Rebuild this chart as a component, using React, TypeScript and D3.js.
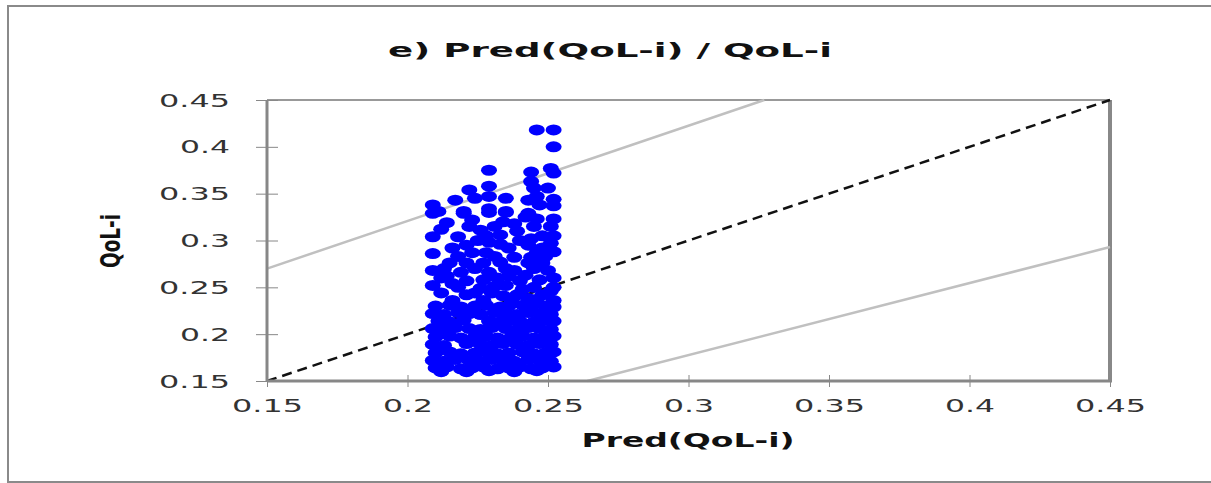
import { useEffect, useRef } from "react";
import * as d3 from "d3";

// axis ticks (same on both axes)
const tickValues = [0.15, 0.2, 0.25, 0.3, 0.35, 0.4, 0.45];
const tickLabels = ["0.15", "0.2", "0.25", "0.3", "0.35", "0.4", "0.45"];

// reference lines [x, y]
const identityLine: [number, number][] = [[0.15, 0.15], [0.45, 0.45]];
const upperBand: [number, number][] = [[0.15, 0.27], [0.327, 0.45]];
const lowerBand: [number, number][] = [[0.264, 0.15], [0.45, 0.293]];

const points: [number, number][] = [
  // upper, sparse part
  [0.246, 0.418], [0.252, 0.418], [0.252, 0.4], [0.229, 0.375], [0.244, 0.373],
  [0.251, 0.377], [0.252, 0.372], [0.244, 0.363], [0.229, 0.358], [0.222, 0.354],
  [0.245, 0.356], [0.25, 0.356], [0.217, 0.343], [0.224, 0.345], [0.229, 0.347],
  [0.235, 0.345], [0.243, 0.343], [0.246, 0.347], [0.252, 0.344], [0.209, 0.338],
  [0.22, 0.331], [0.229, 0.334], [0.235, 0.331], [0.243, 0.329], [0.247, 0.338],
  [0.252, 0.337], [0.211, 0.331],
  // middle
  [0.209, 0.329], [0.22, 0.329], [0.229, 0.33], [0.235, 0.33], [0.214, 0.319],
  [0.223, 0.322], [0.234, 0.32], [0.242, 0.325], [0.251, 0.315], [0.226, 0.311],
  [0.233, 0.306], [0.239, 0.31], [0.209, 0.304], [0.218, 0.304], [0.229, 0.298],
  [0.243, 0.295], [0.251, 0.297], [0.209, 0.286], [0.223, 0.287], [0.228, 0.287],
  [0.238, 0.282], [0.246, 0.287], [0.215, 0.276], [0.221, 0.276], [0.227, 0.276],
  [0.233, 0.277], [0.243, 0.276], [0.248, 0.276], [0.209, 0.268], [0.219, 0.266],
  [0.229, 0.266], [0.238, 0.268], [0.25, 0.268], [0.212, 0.26], [0.221, 0.257],
  [0.232, 0.26], [0.24, 0.257], [0.252, 0.26], [0.209, 0.252], [0.218, 0.25],
  [0.226, 0.249], [0.235, 0.252], [0.245, 0.25], [0.212, 0.244], [0.221, 0.242],
  [0.23, 0.244], [0.239, 0.242], [0.248, 0.242], [0.216, 0.236], [0.227, 0.236],
  [0.237, 0.236], [0.246, 0.237], [0.252, 0.236], [0.252, 0.323], [0.252, 0.305],
  [0.252, 0.288], [0.252, 0.25], [0.248, 0.305], [0.245, 0.315], [0.24, 0.3],
  [0.236, 0.292], [0.225, 0.3], [0.216, 0.292], [0.212, 0.312], [0.231, 0.315],
  [0.244, 0.282], [0.224, 0.27], [0.214, 0.262], [0.242, 0.263], [0.235, 0.27],
  [0.218, 0.283], [0.231, 0.283], [0.249, 0.283], [0.213, 0.27], [0.245, 0.27],
  [0.227, 0.258], [0.236, 0.262], [0.247, 0.258], [0.216, 0.254], [0.231, 0.251],
  [0.241, 0.248], [0.251, 0.246], [0.224, 0.244], [0.234, 0.241], [0.243, 0.238],
  [0.222, 0.315], [0.238, 0.318], [0.246, 0.323], [0.228, 0.305], [0.244, 0.302],
  [0.233, 0.296], [0.221, 0.295], [0.248, 0.292],
  // lower, dense part
  [0.21, 0.23], [0.215, 0.231], [0.219, 0.229], [0.224, 0.23], [0.228, 0.231],
  [0.233, 0.229], [0.236, 0.23], [0.241, 0.231], [0.244, 0.229], [0.249, 0.23],
  [0.252, 0.229],
  [0.209, 0.222], [0.213, 0.221], [0.218, 0.223], [0.222, 0.222], [0.226, 0.221],
  [0.231, 0.223], [0.235, 0.222], [0.239, 0.221], [0.243, 0.223], [0.247, 0.222],
  [0.251, 0.221],
  [0.211, 0.214], [0.215, 0.213], [0.22, 0.215], [0.229, 0.214], [0.233, 0.213],
  [0.237, 0.215], [0.24, 0.214], [0.245, 0.213], [0.249, 0.215], [0.252, 0.214],
  [0.209, 0.206], [0.213, 0.205], [0.217, 0.207], [0.222, 0.206], [0.226, 0.205],
  [0.23, 0.207], [0.235, 0.206], [0.239, 0.205], [0.243, 0.207], [0.247, 0.206],
  [0.251, 0.205],
  [0.21, 0.197], [0.215, 0.198], [0.219, 0.196], [0.224, 0.197], [0.228, 0.198],
  [0.232, 0.196], [0.237, 0.197], [0.241, 0.198], [0.245, 0.196], [0.249, 0.197],
  [0.252, 0.198],
  [0.209, 0.189], [0.213, 0.188], [0.221, 0.19], [0.226, 0.189], [0.23, 0.188],
  [0.234, 0.19], [0.239, 0.189], [0.243, 0.188], [0.247, 0.19], [0.251, 0.189],
  [0.21, 0.18], [0.215, 0.181], [0.219, 0.179], [0.224, 0.18], [0.228, 0.181],
  [0.232, 0.179], [0.236, 0.18], [0.241, 0.181], [0.245, 0.179], [0.249, 0.18],
  [0.252, 0.181],
  [0.209, 0.172], [0.213, 0.171], [0.217, 0.173], [0.222, 0.172], [0.226, 0.171],
  [0.23, 0.173], [0.234, 0.172], [0.238, 0.171], [0.243, 0.173], [0.247, 0.172],
  [0.251, 0.171],
  [0.21, 0.164], [0.214, 0.165], [0.219, 0.163], [0.223, 0.164], [0.227, 0.165],
  [0.232, 0.163], [0.236, 0.164], [0.24, 0.165], [0.244, 0.163], [0.248, 0.164],
  [0.252, 0.165],
  [0.212, 0.16], [0.221, 0.16], [0.229, 0.161], [0.238, 0.16], [0.246, 0.161],
];

const FONT = "'DejaVu Sans', Verdana, sans-serif";

export default function App() {
  const ref = useRef<SVGSVGElement>(null);

  useEffect(() => {
    if (!ref.current) return;
    const svg = d3.select(ref.current);
    svg.selectAll("*").remove();

    const left = 267, right = 1110, top = 100, bottom = 381;

    const x = d3.scaleLinear().domain([0.15, 0.45]).range([left, right]);
    const y = d3.scaleLinear().domain([0.15, 0.45]).range([bottom, top]);

    // outer chart frame
    svg.append("rect")
      .attr("x", 8).attr("y", 6)
      .attr("width", 1220).attr("height", 476)
      .attr("fill", "#fff")
      .attr("stroke", "#8a8a8a")
      .attr("stroke-width", 2);

    // title
    svg.append("text")
      .attr("x", 610).attr("y", 50)
      .attr("dy", "0.36em")
      .attr("text-anchor", "middle")
      .attr("font-family", FONT)
      .attr("font-weight", "bold")
      .attr("font-size", 19)
      .attr("textLength", 444)
      .attr("lengthAdjust", "spacingAndGlyphs")
      .attr("fill", "#111")
      .text("e) Pred(QoL-i) / QoL-i");

    // plot border (top and right)
    svg.append("line")
      .attr("x1", left).attr("x2", right).attr("y1", top).attr("y2", top)
      .attr("stroke", "#999").attr("stroke-width", 2);
    svg.append("line")
      .attr("x1", right).attr("x2", right).attr("y1", top).attr("y2", bottom)
      .attr("stroke", "#888").attr("stroke-width", 4);

    const line = d3.line<[number, number]>()
      .x((d) => x(d[0]))
      .y((d) => y(d[1]));

    // reference lines
    [upperBand, lowerBand].forEach((band) => {
      svg.append("path")
        .attr("d", line(band))
        .attr("fill", "none")
        .attr("stroke", "#c0c0c0")
        .attr("stroke-width", 2.5);
    });
    svg.append("path")
      .attr("d", line(identityLine))
      .attr("fill", "none")
      .attr("stroke", "#111")
      .attr("stroke-width", 2.5)
      .attr("stroke-dasharray", "10,6");

    // Y axis
    const yAxis = svg.append("g")
      .attr("transform", `translate(${left},0)`)
      .call(d3.axisLeft(y).tickValues(tickValues)
        .tickFormat((_, i) => tickLabels[i]).tickSize(11).tickPadding(26));
    yAxis.select(".domain").remove();
    yAxis.selectAll(".tick line").attr("x1", 11).attr("stroke", "#888");
    yAxis.selectAll<SVGTextElement, number>(".tick text")
      .attr("font-family", FONT)
      .attr("font-size", 17)
      .attr("fill", "#333")
      .attr("dy", "0.36em")
      .attr("textLength", (_, i) => (tickLabels[i].length === 4 ? 71 : 50))
      .attr("lengthAdjust", "spacingAndGlyphs");

    // X axis
    const xAxis = svg.append("g")
      .attr("transform", `translate(0,${bottom})`)
      .call(d3.axisBottom(x).tickValues(tickValues)
        .tickFormat((_, i) => tickLabels[i]).tickSize(6));
    xAxis.select(".domain").remove();
    xAxis.selectAll(".tick line").attr("y1", -6).attr("stroke", "#888");
    xAxis.selectAll<SVGTextElement, number>(".tick text")
      .attr("font-family", FONT)
      .attr("font-size", 17)
      .attr("fill", "#333")
      .attr("y", 25)
      .attr("dy", "0.36em")
      .attr("textLength", (_, i) => (tickLabels[i].length === 4 ? 71 : 50))
      .attr("lengthAdjust", "spacingAndGlyphs");

    // axis lines
    svg.append("line")
      .attr("x1", left).attr("x2", left).attr("y1", top).attr("y2", bottom)
      .attr("stroke", "#878787").attr("stroke-width", 3);
    svg.append("line")
      .attr("x1", left).attr("x2", right + 2).attr("y1", bottom).attr("y2", bottom)
      .attr("stroke", "#878787").attr("stroke-width", 3);

    // points
    svg.append("g")
      .selectAll("ellipse")
      .data(points)
      .enter()
      .append("ellipse")
      .attr("cx", (d) => x(d[0]))
      .attr("cy", (d) => y(d[1]))
      .attr("rx", 8)
      .attr("ry", 5.5)
      .attr("fill", "#0000ff");

    // axis titles
    svg.append("text")
      .attr("x", 688).attr("y", 440)
      .attr("dy", "0.36em")
      .attr("text-anchor", "middle")
      .attr("font-family", FONT)
      .attr("font-weight", "bold")
      .attr("font-size", 20)
      .attr("textLength", 213)
      .attr("lengthAdjust", "spacingAndGlyphs")
      .attr("fill", "#111")
      .text("Pred(QoL-i)");

    svg.append("text")
      .attr("transform", "translate(111,241) scale(1.45,1) rotate(-90)")
      .attr("dy", "0.36em")
      .attr("text-anchor", "middle")
      .attr("font-family", FONT)
      .attr("font-weight", "bold")
      .attr("font-size", 18)
      .attr("textLength", 54)
      .attr("lengthAdjust", "spacingAndGlyphs")
      .attr("fill", "#111")
      .text("QoL-i");
  }, []);

  return (
    <svg
      ref={ref}
      width={1211}
      height={483}
      style={{ position: "absolute", left: 0, top: 0, background: "#fff" }}
    />
  );
}
